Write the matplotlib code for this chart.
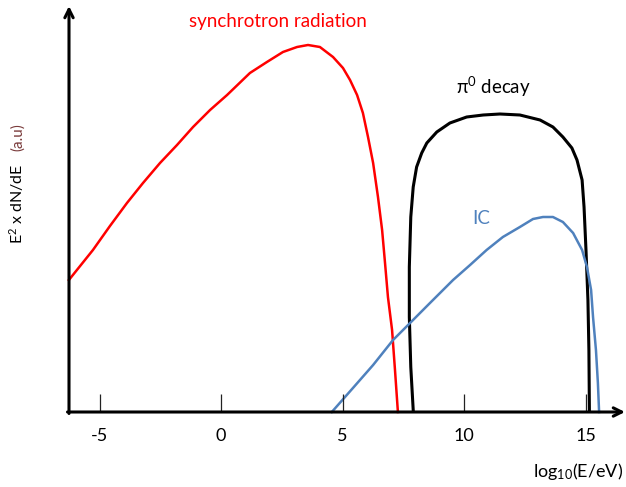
import matplotlib
matplotlib.use('Agg')
import matplotlib.pyplot as plt

plt.rcParams['font.family'] = ['Lato', 'DejaVu Sans']
plt.rcParams['mathtext.fontset'] = 'custom'
plt.rcParams['mathtext.rm'] = 'Lato'
plt.rcParams['mathtext.it'] = 'Lato:italic'

# log10(E/eV) vs E^2 dN/dE (arbitrary units)
sync_x = [-6.26, -5.27, -4.57, -3.87, -3.21, -2.51, -1.81, -1.15, -0.45, 0.25, 1.19,
          1.89, 2.55, 3.13, 3.58, 4.07, 4.61, 5.02, 5.31, 5.60, 5.84, 6.05, 6.26,
          6.46, 6.63, 6.75, 6.87, 7.04, 7.16, 7.28]
sync_y = [132, 162, 186, 209, 229, 249, 267, 285, 302, 317, 339,
          350, 360, 365, 367, 365, 355, 344, 332, 317, 299, 275, 249,
          215, 182, 149, 115, 82, 42, 0]

pi0_x = [7.91, 7.81, 7.75, 7.75, 7.81, 7.91, 8.05, 8.26, 8.47, 8.88, 9.42, 10.11,
         10.79, 11.48, 12.30, 13.13, 13.66, 14.07, 14.44, 14.65, 14.86, 14.94,
         15.02, 15.10, 15.14, 15.16]
pi0_y = [2, 45, 95, 145, 195, 225, 245, 259, 269, 280, 289, 295,
         297, 298, 297, 292, 285, 275, 264, 252, 232, 205,
         162, 112, 62, 2]

ic_x = [4.56, 5.43, 6.26, 7.08, 7.78, 8.60, 9.55, 10.25, 10.93, 11.60, 12.30, 12.84,
        13.25, 13.66, 14.07, 14.49, 14.86, 15.06, 15.23, 15.31, 15.43, 15.51, 15.56]
ic_y = [0, 24, 47, 72, 89, 109, 132, 147, 162, 175, 185, 193,
        195, 195, 190, 179, 162, 145, 122, 95, 62, 29, 0]

tick_vals = [-5, 0, 5, 10, 15]
tick_labels = ['-5', '0', '5', '10', '15']

RED = '#ff0000'
BLUE = '#4f81bd'


def px(x, y):
    # pixel position in the 626x487 picture -> data coordinates
    return (x - 221) / 24.3, 412 - y


fig = plt.figure(figsize=(6.26, 4.87), dpi=100)
ax = fig.add_axes([0, 0, 1, 1])
ax.set_xlim(px(0, 0)[0], px(626, 0)[0])
ax.set_ylim(px(0, 487)[1], px(0, 0)[1])
ax.axis('off')

ax.plot(sync_x, sync_y, color=RED, lw=1.8, solid_joinstyle='round')
ax.plot(pi0_x, pi0_y, color='black', lw=2.2, solid_joinstyle='round')
ax.plot(ic_x, ic_y, color=BLUE, lw=1.8, solid_joinstyle='round')

# hand-drawn style axes with arrows
arrow = dict(arrowstyle='->,head_length=0.6,head_width=0.3', lw=2.2, color='black',
             shrinkA=0, shrinkB=0)
ax.annotate('', xy=px(69, 6), xytext=px(69, 413.5), arrowprops=arrow)
ax.annotate('', xy=px(625, 412), xytext=px(67.5, 412), arrowprops=arrow)

ax.vlines(tick_vals, 0, 18, color='#222222', lw=0.9)
for v, lab in zip(tick_vals, tick_labels):
    ax.text(v, px(0, 436)[1], lab, ha='center', va='center', fontsize=13)

ax.text(*px(578, 471), r'log$_{10}$(E/eV)', ha='center', va='center', fontsize=13)
ax.text(*px(17, 204), r'E$^{2}$ x dN/dE', ha='center', va='center',
        rotation=90, fontsize=11.5)
ax.text(*px(18, 137), '(a.u)', ha='center', va='center', rotation=90,
        fontsize=11, color='#7a3b3b')

ax.text(*px(278, 21), 'synchrotron radiation', ha='center', va='center',
        fontsize=13.5, color=RED)
ax.text(*px(493, 87), r'π$^{0}$ decay', ha='center', va='center', fontsize=13.5)
ax.text(*px(481, 219), 'IC', ha='center', va='center', fontsize=13.5, color=BLUE)

fig.savefig('out.png', dpi=100)
